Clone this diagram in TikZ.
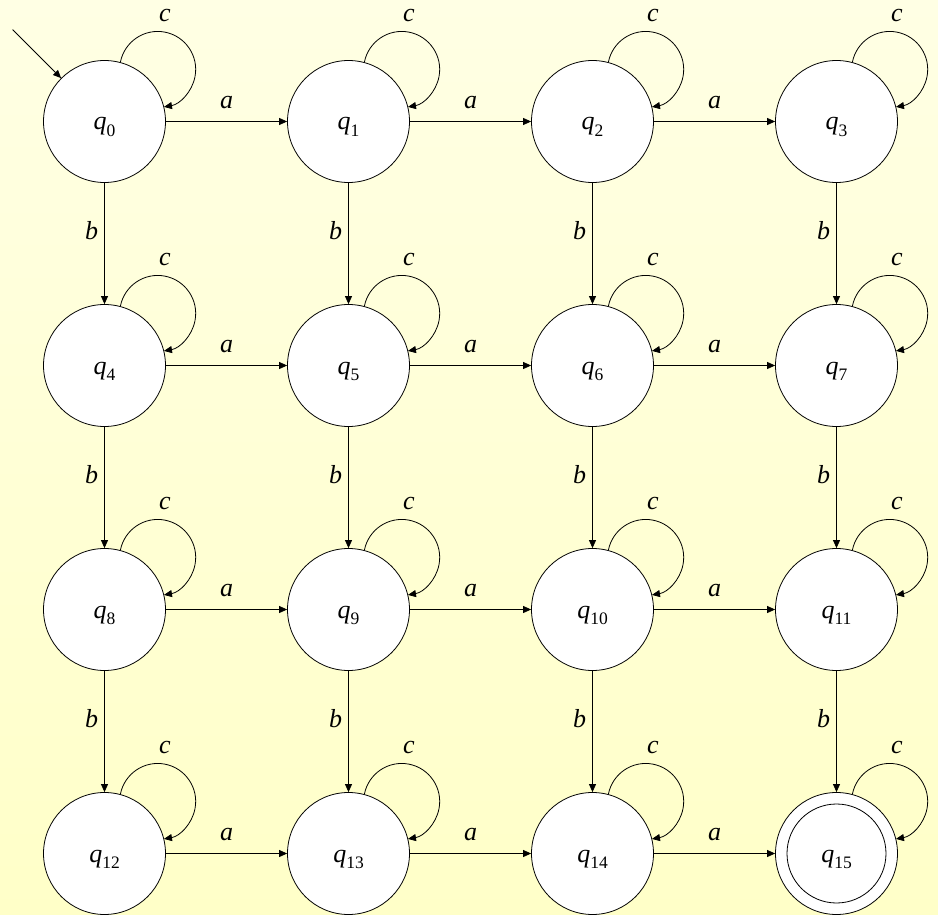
\documentclass[tikz,border=0pt]{standalone}
\usepackage{fontspec}
\setmainfont{Liberation Serif}
\usetikzlibrary{arrows.meta}
\definecolor{bgtop}{RGB}{255,255,228}
\definecolor{bgbot}{RGB}{255,255,200}
\newcommand\stlab[1]{\textit{q}\raisebox{-6.5pt}{\fontsize{17.5}{17.5}\selectfont #1}}
\begin{document}
\begin{tikzpicture}[x=1pt,y=1pt,
  every node/.style={font=\fontsize{26}{28}\selectfont},
  state/.style={circle,draw,fill=white,line width=0.8pt,minimum size=122pt,inner sep=0pt,text height=19pt,text depth=2pt},
  inner/.style={circle,draw,line width=0.8pt,minimum size=99pt,inner sep=0pt},
  edge/.style={line width=0.8pt,-{Triangle[length=8pt,width=7pt]}},
  lbl/.style={inner sep=0pt,font=\fontsize{26}{28}\selectfont\itshape},
]
\shade[top color=bgtop,bottom color=bgbot] (0,0) rectangle (938,-915);
\useasboundingbox (0,0) rectangle (938,-915);
\foreach \r in {0,1,2,3}{
  \foreach \c in {0,1,2,3}{
    \pgfmathtruncatemacro\n{4*\r+\c}
    \node[state] (q\n) at ({104.5+244*\c},{-121.5-244*\r}) {\stlab{\n}};
  }
}
\node[inner] (q15in) at (q15.center) {};
% self loops
\foreach \n in {0,...,15}{
  \draw[edge] (q\n.75) arc[start angle=169,end angle=-80.5,radius=38pt];
  \node[lbl,anchor=base] (c\n) at ([shift={(60.5,99.8)}]q\n.center) {c};
}
% horizontal edges
\foreach \r in {0,1,2,3}{
  \foreach \c in {0,1,2}{
    \pgfmathtruncatemacro\a{4*\r+\c}
    \pgfmathtruncatemacro\b{4*\r+\c+1}
    \draw[edge] (q\a) -- node[lbl,midway,anchor=base,yshift=13pt]{a} (q\b);
  }
}
% vertical edges
\foreach \r in {0,1,2}{
  \foreach \c in {0,1,2,3}{
    \pgfmathtruncatemacro\a{4*\r+\c}
    \pgfmathtruncatemacro\b{4*\r+\c+4}
    \draw[edge] (q\a) -- node[lbl,pos=0.471,anchor=base east,xshift=-6pt]{b} (q\b);
  }
}
% initial arrow
\coordinate (init) at ([shift={(135:130pt)}]q0.center);
\draw[edge] (init) -- (q0.135);
\end{tikzpicture}
\end{document}
